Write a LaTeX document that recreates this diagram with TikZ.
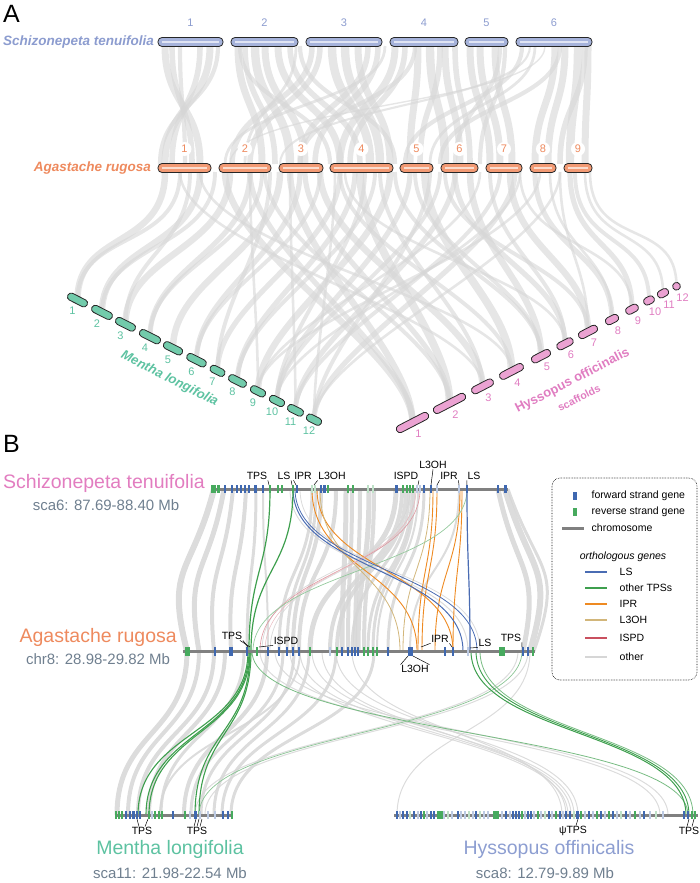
\documentclass[tikz,border=0pt]{standalone}
\usepackage{fontspec}
\setmainfont{Liberation Sans}
\usepackage{tikz}
\usetikzlibrary{calc,positioning}
\definecolor{stA}{HTML}{8C9CCF}
\definecolor{stfill}{HTML}{A6B3DB}
\definecolor{arA}{HTML}{EE8A5E}
\definecolor{arfill}{HTML}{F29A74}
\definecolor{mlA}{HTML}{5DC2A1}
\definecolor{mlfill}{HTML}{72CBAB}
\definecolor{hoA}{HTML}{E07DC1}
\definecolor{hofill}{HTML}{EBA2D2}
\definecolor{stB}{HTML}{E27DC0}
\definecolor{hoB}{HTML}{8D9ED1}
\definecolor{scagray}{HTML}{6F7F8F}
\definecolor{gfwd}{HTML}{3F68B0}
\definecolor{grev}{HTML}{47AA5E}
\colorlet{pfwd}{gfwd!35!white}
\colorlet{prevg}{grev!35!white}
\definecolor{lsc}{HTML}{4A6CB3}
\definecolor{tpsc}{HTML}{3E9F4E}
\definecolor{iprc}{HTML}{EE8A22}
\definecolor{lohc}{HTML}{D2B67A}
\definecolor{ispdc}{HTML}{C9505F}
\definecolor{linkgray}{HTML}{D6D6D6}
\definecolor{chrgray}{HTML}{808080}
\newcommand\fsz[1]{\fontsize{#1}{#1}\selectfont}
\tikzset{
  chrbar/.style={draw=black!85, line width=0.8pt, rounded corners=4pt},
  tiltbar/.style={draw=black!85, line width=0.8pt, rounded corners=3.5pt, minimum height=7.5pt, inner sep=0pt},
  alink/.style={draw=linkgray, opacity=0.6},
  blink/.style={draw=linkgray, opacity=0.85},
  numA/.style={font=\fsz{11}, inner sep=1pt},
  glab/.style={font=\fsz{10.5}, inner sep=0.5pt},
  leader/.style={draw=black, line width=0.5pt},
  spB/.style={font=\fsz{19.5}, inner sep=1pt},
  scaB/.style={font=\fsz{15}, text=scagray, inner sep=1pt},
  legtxt/.style={font=\fsz{10.5}, anchor=west, inner sep=0.5pt}
}
\begin{document}
\begin{tikzpicture}[x=1pt,y=-1pt]
\useasboundingbox (0,0) rectangle (700,883);

% ---------------- Panel A ----------------
\node[anchor=base west, font=\fsz{25}, inner sep=0pt] (pA) at (3,23) {A};

% Mentha and Hyssopus scaffold centres
\foreach \n/\cx in {1/77.5,2/102,3/125.5,4/150,5/173,6/196.5,7/217.5,8/237.5,9/258,10/277,11/295.5,12/314}{
  \pgfmathsetmacro\cy{300+0.506*(\cx-77.5)}
  \coordinate (mc\n) at (\cx,\cy);
}
\foreach \n/\cx in {1/412.5,2/449.5,3/482.5,4/511.5,5/541,6/565,7/588,8/612,9/632,10/649,11/663,12/676.5}{
  \pgfmathsetmacro\cy{422.5-0.516*(\cx-412.5)}
  \coordinate (hc\n) at (\cx,\cy);
}

% links Schizonepeta -> Agastache
\foreach \p/\q/\w in {165/200/5,172/192/4,180/185/3,200/172/4,210/165/5,218/160/3,
  238/262/5,245/275/4,255/290/6,265/305/5,278/340/5,290/360/4,296/245/2,
  312/232/4,320/250/4,332/370/6,345/380/6,358/390/5,368/300/4,378/315/4,
  395/340/5,405/350/4,418/410/5,430/445/6,445/460/5,455/470/4,
  470/490/5,480/500/5,495/512/5,505/480/3,
  522/405/3,530/280/1.5,545/230/1,555/535/5,565/548/5,578/570/6,588/585/5,560/440/3,
  240/330/3,300/395/3,385/225/2,415/300/3,440/420/4,500/455/3,535/430/2,585/560/4}
  \draw[alink, line width=1.4*\w pt] (\p,46) .. controls (\p,105) and (\q,105) .. (\q,164);

% links Agastache -> Mentha
\foreach \p/\n/\w in {165/1/5,180/1/3,200/2/5,215/2/3,230/3/5,250/4/4,262/4/3,280/5/5,
  300/6/4,320/6/3,340/7/4,355/8/4,375/8/3,390/9/5,410/10/4,440/10/3,455/11/4,
  500/11/3,515/12/4,540/9/2,560/12/2,290/11/2,335/12/2,250/9/2,
  190/3/3,270/7/3,365/10/3,430/12/3,480/9/2,520/10/2}
  \draw[alink, line width=1.3*\w pt] (\p,172) .. controls (\p,250) and ($(mc\n)+(0,-70)$) .. (mc\n);

% links Agastache -> Hyssopus
\foreach \p/\n/\w in {225/1/5,250/1/4,290/1/5,305/2/4,360/2/6,320/3/5,380/3/3,425/4/6,
  200/4/2,470/5/5,395/5/3,455/6/4,510/7/5,490/6/3,535/8/4,570/9/4,550/8/2,
  575/10/3,585/11/2,590/12/2,180/3/2,345/6/2,
  265/2/3,340/4/3,415/5/3,445/7/3,520/9/2,560/7/2}
  \draw[alink, line width=1.3*\w pt] (\p,172) .. controls (\p,250) and ($(hc\n)+(0,-70)$) .. (hc\n);

% Schizonepeta chromosomes
\foreach \n/\a/\b in {1/158/223,2/231/298,3/306/382,4/390/458,5/465/508,6/516/592}{
  \draw[chrbar, fill=stfill] (\a,37.5) rectangle (\b,46.5);
  \draw[stfill!35!white, line width=1.2pt] ({\a+4},42) -- ({\b-4},42);
  \node[numA, text=stA] (stn\n) at ({(\a+\b)/2},23) {\n};
}
\node[anchor=east, font=\bfseries\itshape\fsz{13.5}, text=stA, inner sep=0pt] (stname) at (154,42) {Schizonepeta tenuifolia};

% Agastache chromosomes
\foreach \n/\a/\b in {1/158/211,2/219/271,3/279/323,4/330/393,5/400/433,6/441/478,7/486/522,8/530/556,9/564/592}{
  \draw[chrbar, fill=arfill] (\a,163.5) rectangle (\b,172.5);
  \draw[arfill!35!white, line width=1.2pt] ({\a+4},168) -- ({\b-4},168);
  \node[numA, circle, fill=white, text=arA, inner sep=1.5pt] (arn\n) at ({(\a+\b)/2},149) {\n};
}
\node[anchor=east, font=\bfseries\itshape\fsz{13.5}, text=arA, inner sep=0pt] (arname) at (151,168) {Agastache rugosa};

% Mentha scaffolds
\foreach \n/\len in {1/21.5,2/22.4,3/21.5,4/22.8,5/20.6,6/21,7/15.8,8/19.2,9/16.1,10/16.1,11/17,12/16.1}{
  \node[tiltbar, fill=mlfill, rotate=-26.8, minimum width=\len pt] (ml\n) at (mc\n) {};
  \node[numA, text=mlA] (mln\n) at ($(mc\n)+(-5,11)$) {\n};
}
\node[rotate=-26.8, font=\bfseries\itshape\fsz{13}, text=mlA, inner sep=0pt] (mlname) at (169.5,379) {Mentha longifolia};

% Hyssopus scaffolds
\foreach \n/\len in {1/35.4,2/35.4,3/23.7,4/26,5/20.6,6/17.5,7/20.6,8/13.9,9/13.4,10/11.2,11/11.7,12/7.6}{
  \node[tiltbar, fill=hofill, rotate=27.3, minimum width=\len pt] (ho\n) at (hc\n) {};
  \node[numA, text=hoA] (hon\n) at ($(hc\n)+(6,11)$) {\n};
}
\node[rotate=27.3, font=\bfseries\fsz{13}, text=hoA, inner sep=0pt] (honame) at (572.5,381) {Hyssopus officinalis};
\node[rotate=27.3, font=\bfseries\fsz{10.5}, text=hoA, inner sep=0pt] (hoscaf) at (579,398) {scaffolds};

% ---------------- Panel B ----------------
\node[anchor=base west, font=\fsz{25}, inner sep=0pt] (pB) at (3,452) {B};

% grey links row 1 -> row 2
\foreach \p/\q/\w/\b in {214/187/6/-22,224/199/5/-15,233/214/4/-8,246/231/4/-4,256/247/3/0,263/268/2/0,
  312/279/3/0,316/287/3/0,321/293/4/0,336/299/4/0,346/342/5/0,352/348/4/0,360/355/4/0,
  369/358/5/0,374/364/4/0,396/310/5/0,402/330/4/0,406/337/4/0,409/352/3/0,412/368/3/0,
  414/373/3/0,418/377/2/0,424/388/3/0,459/410/2/0,498/523/5/18,505/530/6/25,508/534/3/30,
  290/468/1/0,300/480/0.8/0,410/262/0.8/0,415/270/0.8/0}
  \draw[blink, line width=\w pt] (\p,489) .. controls ({\p+\b},575) and ({\q+\b},565) .. (\q,651);

% grey links row 2 -> row 3
\foreach \p/\q/\w in {187/117/5,199/128/4,214/138/4,225/149/4,244/161/3,267/184/4,283/191/3,
  294/201/3,309/214/3,336/222/3,374/231/3,518/195/1,528/205/1,300/160/2,
  290/568/1,300/571/1,312/574/1,322/566/1,336/578/1,352/562/1,530/397/1,260/660/1,275/668/1}
  \draw[blink, line width=\w pt] (\p,651) .. controls (\p,735) and (\q,731) .. (\q,815);

% orthologous genes row 1 -> row 2
\foreach \p/\q/\c/\w in {312/417/iprc/0.9,317/453/iprc/0.9,433/418/iprc/0.9,437/422/iprc/0.9,
  460/435/iprc/0.9,462/453/iprc/0.9,320/400/lohc/0.8,430/403/lohc/0.8,
  420/260/ispdc!60/0.6,416/265/ispdc!40/0.5,467/253/tpsc!55/0.7,
  293/463/lsc/1,295/477/lsc/0.8,467/470/lsc/1.2,270/249/tpsc/1.2,293/251/tpsc/1.2}
  \draw[\c, line width=\w pt] (\p,489) .. controls (\p,570) and (\q,570) .. (\q,651);

% orthologous genes row 2 -> row 3
\foreach \p/\q/\c/\w in {252/688/tpsc!70/0.8,522/199/tpsc!60/0.7,471/686/tpsc/1,476/689/tpsc/0.9,
  480/693/tpsc!70/0.8,248/138/tpsc/1.1,249/146/tpsc/1.1,250/149/tpsc/1.1,250/195/tpsc/1.1,251/199/tpsc/1.1}
  \draw[\c, line width=\w pt] (\p,651) .. controls (\p,735) and (\q,731) .. (\q,815);

% chromosomes
\draw[chrgray, line width=3pt] (212,489) -- (508,489);
\draw[chrgray, line width=3pt] (183,651) -- (535,651);
\draw[chrgray, line width=3pt] (115,815) -- (233,815);
\draw[chrgray, line width=3pt] (394,815) -- (698,815);

% genes
\foreach \x/\c/\w in {213/grev/5,218/grev/3,225/gfwd/1.5,232/gfwd/1.5,237/gfwd/1.5,241/gfwd/1.5,
  245/gfwd/1.5,249/gfwd/1.5,255/gfwd/3,263/gfwd/2,270/grev/1.5,278/grev/1.5,282/grev/1.5,
  293/grev/1.5,297/gfwd/1.5,312/prevg/1.5,315/prevg/1.5,321/gfwd/2,324/gfwd/3,328/grev/1.5,
  348/grev/1.5,353/grev/1.5,368/prevg/1.5,373/prevg/1.5,396/gfwd/3,403/grev/2,407/grev/2,
  410/grev/2,413/grev/2,417/pfwd/1.5,420/pfwd/1.5,424/gfwd/1.5,431/gfwd/1.5,437/pfwd/1.5,
  459/pfwd/1.5,467/gfwd/1.5,498/gfwd/1.5,505/gfwd/3}
  \fill[\c] ({\x-\w/2},485) rectangle ({\x+\w/2},493);
\foreach \x/\c/\w in {187/grev/5,215/gfwd/2,231/gfwd/4,247/gfwd/2,257/grev/1.5,268/gfwd/1.5,
  279/gfwd/1.5,287/gfwd/1.5,293/gfwd/1.5,299/gfwd/1.5,310/grev/2,330/pfwd/1.5,337/grev/1.5,
  342/gfwd/1.5,348/gfwd/2,352/gfwd/2,355/gfwd/2,358/gfwd/2,364/grev/1.5,368/grev/2,373/grev/2,
  377/grev/1.5,388/gfwd/1.5,410/gfwd/5,445/gfwd/1.5,453/gfwd/1.5,468/pfwd/1.5,502/grev/6,
  523/gfwd/2,528/gfwd/2,533/grev/2}
  \fill[\c] ({\x-\w/2},646.5) rectangle ({\x+\w/2},655.5);
\foreach \x/\c/\w in {116/grev/2,119/grev/2,122/grev/1.5,126/gfwd/1.5,130/gfwd/1.5,133/gfwd/3,
  137/gfwd/1.5,140/gfwd/1.5,149/grev/2,152/pfwd/1.5,155/grev/2,159/grev/2,162/grev/2,
  173/gfwd/1.5,185/grev/2,190/pfwd/1.5,195/gfwd/3,200/pfwd/1.5,208/pfwd/1.5,215/pfwd/1.5,
  223/gfwd/1.5,228/gfwd/1.5,232/grev/2}
  \fill[\c] ({\x-\w/2},811) rectangle ({\x+\w/2},819);
\foreach \x/\c/\w in {397/gfwd/1.5,400/pfwd/1.5,403/gfwd/1.5,407/gfwd/1.5,410/prevg/1.5,
  414/gfwd/1.5,418/pfwd/1.5,421/gfwd/1.5,424/grev/1.5,427/pfwd/1.5,431/gfwd/1.5,434/gfwd/1.5,
  438/grev/3,441/grev/3,444/pfwd/1.5,448/prevg/1.5,452/pfwd/1.5,458/gfwd/1.5,461/pfwd/1.5,
  465/pfwd/1.5,469/prevg/1.5,473/pfwd/1.5,476/gfwd/1.5,480/prevg/1.5,484/pfwd/1.5,488/pfwd/1.5,
  494/grev/3,497/grev/3,502/pfwd/1.5,506/gfwd/1.5,510/pfwd/1.5,513/gfwd/1.5,516/gfwd/1.5,
  519/gfwd/1.5,522/grev/1.5,525/pfwd/1.5,528/gfwd/1.5,531/gfwd/1.5,534/pfwd/1.5,538/grev/1.5,
  541/pfwd/1.5,545/prevg/1.5,549/gfwd/1.5,552/pfwd/1.5,556/grev/1.5,560/gfwd/1.5,563/pfwd/1.5,
  566/gfwd/1.5,570/gfwd/1.5,574/prevg/1.5,577/gfwd/3,581/grev/1.5,585/pfwd/1.5,589/gfwd/1.5,
  593/pfwd/1.5,597/grev/1.5,601/gfwd/1.5,605/pfwd/1.5,609/grev/1.5,613/gfwd/1.5,617/pfwd/1.5,
  621/prevg/1.5,626/gfwd/1.5,630/pfwd/1.5,635/grev/1.5,640/pfwd/1.5,644/gfwd/1.5,650/pfwd/1.5,
  656/prevg/1.5,663/pfwd/1.5,684/gfwd/1.5,688/gfwd/1.5,692/grev/1.5,695/grev/1.5}
  \fill[\c] ({\x-\w/2},811) rectangle ({\x+\w/2},819);

% gene labels row 1
\node[glab] (t1tps) at (257,476) {TPS};
\draw[leader] (t1tps.south east) -- (269,485);
\node[glab] (t1ls) at (284,476) {LS};
\draw[leader] (t1ls.south east) -- (292,485);
\node[glab] (t1ipr) at (303,476) {IPR};
\draw[leader] (t1ipr.south west) -- (296,485);
\node[glab] (t1loh) at (332,476) {L3OH};
\draw[leader] (t1loh.south west) -- (314,485);
\node[glab] (t1ispd) at (406,476) {ISPD};
\draw[leader] (t1ispd.south east) -- (418,485);
\node[glab] (t1lohb) at (433,465) {L3OH};
\draw[leader] (t1lohb.south) -- (431,485);
\node[glab] (t1iprb) at (449,476) {IPR};
\draw[leader] (t1iprb.south west) -- (437,485);
\draw[leader] (t1iprb.south east) -- (459,485);
\node[glab] (t1lsb) at (474,476) {LS};
\draw[leader] (t1lsb.south west) -- (467,485);

% gene labels row 2
\node[glab] (t2tps) at (232,636) {TPS};
\draw[leader] (t2tps.south east) -- (248,647);
\draw[leader] ($(t2tps.south east)+(-3,0)$) -- (250,647);
\node[glab] (t2ispd) at (286,641) {ISPD};
\draw[leader] (t2ispd.south west) -- (259,647);
\node[glab] (t2ipr) at (440,639) {IPR};
\draw[leader] (t2ipr.south west) -- (421,647);
\draw[leader] (t2ipr.south east) -- (452,647);
\node[glab] (t2ls) at (485,643) {LS};
\draw[leader] (t2ls.south west) -- (470,648);
\node[glab] (t2tps2) at (511,638) {TPS};
\draw[leader] (t2tps2.south east) -- (522,647);
\node[glab] (t2loh) at (415,669) {L3OH};
\draw[leader] (t2loh.north west) -- (408,656);
\draw[leader] (t2loh.north east) -- (413,656);

% gene labels row 3
\node[glab] (t3tps) at (142,831) {TPS};
\draw[leader] ($(t3tps.north)+(-3,0)$) -- (137,819);
\draw[leader] ($(t3tps.north)+(3,0)$) -- (148,819);
\node[glab] (t3tps2) at (197,831) {TPS};
\foreach \d in {-3,0,3}
  \draw[leader] ($(t3tps2.north)+(\d,0)$) -- ({199+\d},819);
\node[glab] (t3psi) at (573,831) {ψTPS};
\draw[leader] ($(t3psi.north)+(3,0)$) -- (578,819);
\node[glab] (t3tps3) at (689,831) {TPS};
\draw[leader] ($(t3tps3.north)+(-2,0)$) -- (689,819);
\draw[leader] ($(t3tps3.north)+(3,0)$) -- (694,819);

% species and ranges
\node[spB, anchor=east, text=stB] (stBname) at (206,483) {Schizonepeta tenuifolia};
\node[scaB] (stBrange) at (106,505) {sca6: 87.69-88.40 Mb};
\node[spB, anchor=east, text=arA] (arBname) at (178,637) {Agastache rugosa};
\node[scaB] (arBrange) at (98,659) {chr8: 28.98-29.82 Mb};
\node[spB, text=mlA] (mlBname) at (170,849) {Mentha longifolia};
\node[scaB] (mlBrange) at (170,873) {sca11: 21.98-22.54 Mb};
\node[spB, text=hoB] (hoBname) at (549,849) {Hyssopus offinicalis};
\node[scaB] (hoBrange) at (545,873) {sca8: 12.79-9.89 Mb};

% legend
\draw[densely dotted, line width=0.6pt, rounded corners=8pt] (552,478) rectangle (697,680);
\fill[gfwd] (573,492) rectangle (577,500);
\node[legtxt] (lgfwd) at (591,496) {forward strand gene};
\fill[grev] (573,508) rectangle (577,516);
\node[legtxt] (lgrev) at (591,512) {reverse strand gene};
\draw[chrgray, line width=3pt] (562,528) -- (584,528);
\node[legtxt] (lgchr) at (591,528) {chromosome};
\node[font=\itshape\fsz{10.5}, inner sep=0.5pt] (lgorth) at (623,557) {orthologous genes};
\foreach \y/\c/\t in {572/lsc/LS,588/tpsc/other TPSs,604/iprc/IPR,620/lohc/L3OH,638/ispdc/ISPD,657/linkgray/other}{
  \draw[\c, line width=2pt] (585,\y) -- (607,\y);
  \node[legtxt] (lg\t) at (619,\y) {\t};
}
\end{tikzpicture}
\end{document}
